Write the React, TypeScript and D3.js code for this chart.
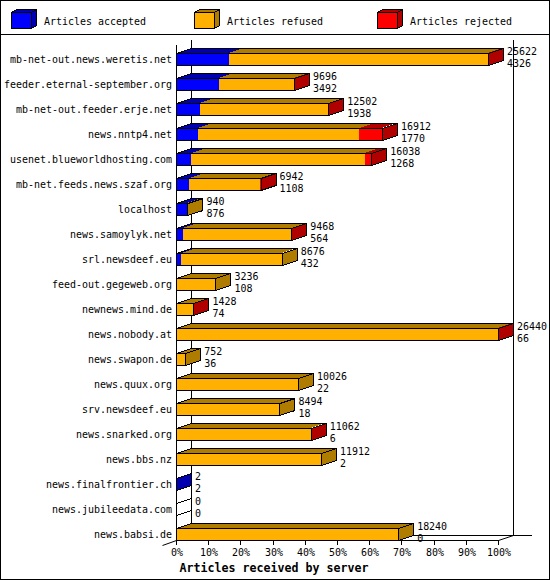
import React from "react";
import * as d3 from "d3";

const servers = [
  "mb-net-out.news.weretis.net",
  "feeder.eternal-september.org",
  "mb-net-out.feeder.erje.net",
  "news.nntp4.net",
  "usenet.blueworldhosting.com",
  "mb-net.feeds.news.szaf.org",
  "localhost",
  "news.samoylyk.net",
  "srl.newsdeef.eu",
  "feed-out.gegeweb.org",
  "newnews.mind.de",
  "news.nobody.at",
  "news.swapon.de",
  "news.quux.org",
  "srv.newsdeef.eu",
  "news.snarked.org",
  "news.bbs.nz",
  "news.finalfrontier.ch",
  "news.jubileedata.com",
  "news.babsi.de",
];

const totals = [25622, 9696, 12502, 16912, 16038, 6942, 940, 9468, 8676, 3236, 1428, 26440, 752, 10026, 8494, 11062, 11912, 2, 0, 18240];
const accepted = [4326, 3492, 1938, 1770, 1268, 1108, 876, 564, 432, 108, 74, 66, 36, 22, 18, 6, 2, 2, 0, 0];
const refused = [21276, 6189, 10554, 13282, 14250, 5824, 64, 8894, 8244, 3128, 1349, 26354, 716, 10004, 8476, 11046, 11910, 0, 0, 18240];
const rejected = [20, 15, 10, 1860, 520, 10, 0, 10, 0, 0, 5, 20, 0, 0, 0, 10, 0, 0, 0, 0];

const seriesNames = ["Articles accepted", "Articles refused", "Articles rejected"];
const tickPercents = [0, 10, 20, 30, 40, 50, 60, 70, 80, 90, 100];
const axisTitle = "Articles received by server";

const front = ["#0000ff", "#ffb000", "#ff0000"];
const dark = ["#0000b0", "#b07c00", "#b00000"];

const W = 550;
const H = 580;
const DX = 15;
const DY = 5;
const FONT = "'DejaVu Sans Mono', monospace";

function T(props: { x: number; y: number; s: string; anchor?: string; bold?: boolean; size?: number }) {
  const cw = props.bold ? 7 : 6;
  return (
    <text
      x={props.x}
      y={props.y}
      textAnchor={props.anchor || "start"}
      fontFamily={FONT}
      fontSize={props.size || (props.bold ? 12 : 11)}
      fontWeight={props.bold ? "bold" : "normal"}
      textLength={props.s.length * cw}
      lengthAdjust="spacingAndGlyphs"
      fill="#000"
    >
      {props.s}
    </text>
  );
}

export default function App() {
  const maxTotal = d3.max(totals) as number;
  const xPct = d3.scaleLinear().domain([0, 100]).range([176, 498]);
  const x = (v: number) => xPct((v / maxTotal) * 100);
  const y = d3.scalePoint<string>().domain(servers).range([59, 534]);
  const X0 = xPct(0);
  const X1 = xPct(100);
  const floorY = 540;
  const topY = 45;

  const bars = servers.map((s, i) => {
    const c = y(s) as number;
    const yt = c - 6;
    const yb = c + 6;
    const vals = [accepted[i], refused[i], rejected[i]];
    let cum = 0;
    const segs: React.ReactNode[] = [];
    let last = -1;
    vals.forEach((v, k) => {
      if (v <= 0) return;
      const xa = x(cum);
      const xb = x(cum + v);
      cum += v;
      last = k;
      segs.push(
        <rect key={"f" + k} x={xa} y={yt} width={Math.max(0, xb - xa)} height={yb - yt} fill={front[k]} />
      );
      segs.push(
        <polygon
          key={"t" + k}
          points={`${xa},${yt} ${xa + DX},${yt - DY} ${xb + DX},${yt - DY} ${xb},${yt}`}
          fill={dark[k]}
        />
      );
    });
    const xe = x(cum);
    const sideFill = last >= 0 ? dark[last] : "#ffffff";
    return (
      <g key={s}>
        {segs}
        <polygon
          points={`${X0 + 0.5},${yt + 0.5} ${X0 + DX + 0.5},${yt - DY + 0.5} ${xe + DX + 0.5},${yt - DY + 0.5} ${xe + 0.5},${yt + 0.5}`}
          fill="none"
          stroke="#000"
        />
        <rect x={X0 + 0.5} y={yt + 0.5} width={Math.max(0, xe - X0)} height={yb - yt} fill="none" stroke="#000" />
        <polygon
          points={`${xe + 0.5},${yt + 0.5} ${xe + DX + 0.5},${yt - DY + 0.5} ${xe + DX + 0.5},${yb - DY + 0.5} ${xe + 0.5},${yb + 0.5}`}
          fill={sideFill}
          stroke="#000"
        />
        <T x={xe + DX + 4} y={c - 4.5} s={String(totals[i])} size={10.5} />
        <T x={xe + DX + 4} y={c + 7.5} s={String(accepted[i])} size={10.5} />
        <T x={172} y={c + 4} s={s} anchor="end" />
      </g>
    );
  });

  return (
    <svg
      width={W}
      height={H}
      viewBox={`0 0 ${W} ${H}`}
      style={{ position: "absolute", left: 0, top: 0, background: "#fff" }}
      shapeRendering="crispEdges"
    >
      <rect x={0} y={0} width={W} height={H} fill="#fff" />
      {seriesNames.map((n, k) => {
        const lx = 11 + 183 * k;
        const ly = 12;
        const w = 20;
        const h = 16;
        return (
          <g key={n}>
            <polygon
              points={`${lx + 0.5},${ly + 0.5} ${lx + 5.5},${ly - 2.5} ${lx + w + 5.5},${ly - 2.5} ${lx + w + 5.5},${ly + h - 2.5} ${lx + w + 0.5},${ly + h + 0.5} ${lx + w + 0.5},${ly + 0.5}`}
              fill={dark[k]}
              stroke="#000"
            />
            <line x1={lx + w + 0.5} y1={ly + 0.5} x2={lx + w + 5.5} y2={ly - 2.5} stroke="#000" />
            <rect x={lx + 0.5} y={ly + 0.5} width={w} height={h} fill={front[k]} stroke="#000" />
            <T x={lx + 33} y={ly + 13} s={n} />
          </g>
        );
      })}
      <line x1={0} y1={34.5} x2={W} y2={34.5} stroke="#000" />
      <line x1={X0 + DX + 0.5} y1={topY - DY} x2={X0 + DX + 0.5} y2={floorY - DY + 0.5} stroke="#000" />
      <line x1={X1 + DX + 0.5} y1={topY - DY} x2={X1 + DX + 0.5} y2={floorY - DY + 0.5} stroke="#000" />
      <line x1={X0 + DX} y1={floorY - DY + 0.5} x2={X1 + DX + 19} y2={floorY - DY + 0.5} stroke="#000" />
      <line x1={X0 + 0.5} y1={topY} x2={X0 + 0.5} y2={floorY + 0.5} stroke="#000" />
      <line x1={X0} y1={floorY + 0.5} x2={X1 + 0.5} y2={floorY + 0.5} stroke="#000" />
      <line x1={X1 + 0.5} y1={floorY + 0.5} x2={X1 + DX + 0.5} y2={floorY - DY + 0.5} stroke="#000" shapeRendering="auto" />
      <line x1={X0 + 0.5} y1={floorY + 0.5} x2={X0 - 14 + 0.5} y2={floorY + 5 + 0.5} stroke="#000" shapeRendering="auto" />
      {bars}
      {tickPercents.map((p) => {
        const tx = Math.round(xPct(p));
        return (
          <g key={p}>
            <line x1={tx + 0.5} y1={floorY} x2={tx + 0.5} y2={floorY + 4.5} stroke="#000" />
            <T x={tx + 1} y={floorY + 16} s={p + "%"} anchor="middle" />
          </g>
        );
      })}
      <T x={274} y={572} s={axisTitle} anchor="middle" bold />
      <rect x={0.5} y={0.5} width={W - 1} height={H - 1} fill="none" stroke="#000" />
    </svg>
  );
}
